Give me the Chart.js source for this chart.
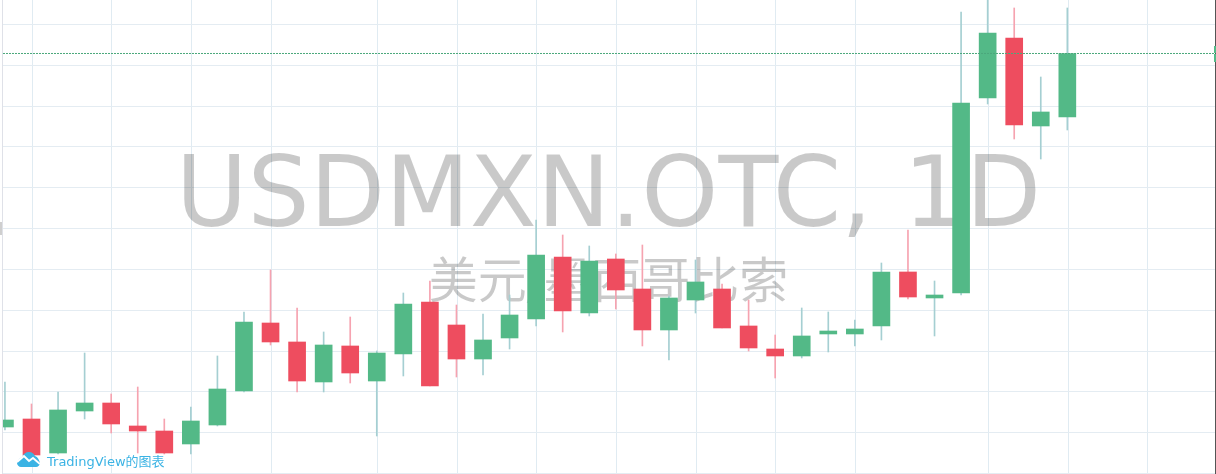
<!DOCTYPE html>
<html>
<head>
<meta charset="utf-8">
<title>USDMXN.OTC, 1D</title>
<script src="https://cdn.jsdelivr.net/npm/chart.js@4/dist/chart.umd.min.js"></script>
<style>
  html, body { margin: 0; padding: 0; background: #fff; overflow: hidden; }
  #wrap { position: relative; width: 1216px; height: 474px; }
  #chart { position: absolute; left: 3px; top: 0; }
  #leftEdge { position: absolute; left: 2px; top: 0; width: 1px; height: 474px; background: #dfe1e8; }
  #leftMark { position: absolute; left: 0; top: 222px; width: 2px; height: 13px; background: #cfcfcf; }
  .priceTag { position: absolute; left: 1214px; width: 2px; background: #53b987; }
  #brand { position: absolute; left: 17px; top: 451px; height: 18px; display: flex; align-items: center;
           color: #3bb3e4; font: 13px "DejaVu Sans", "Noto Sans CJK SC", sans-serif; text-shadow: 0 0 2px #fff; }
  #brand svg { margin-right: 7px; margin-top: -2px; }
</style>
</head>
<body>
<div id="wrap">
  <div id="leftEdge"></div>
  <div id="leftMark"></div>
  <canvas id="chart" width="1213" height="474"></canvas>
  <div class="priceTag" style="top:46px;height:7px"></div>
  <div class="priceTag" style="top:54px;height:8px"></div>
  <div id="brand">
    <svg width="23" height="15" viewBox="0 0 23 15">
      <path d="M0 11 C1 8 3 6 5 5 C6 2 9 0 12 0 C15 0 17 2 18 4 C21 5 22 8 23 11 C23 13 21 15 19 15 L4 15 C2 15 0 13 0 11 Z" fill="#3bb3e4"/>
      <path d="M0 10 L7 4 L12 9 L16 6 L23 12" fill="none" stroke="#fff" stroke-width="2"/>
    </svg>
    <span>TradingView的图表</span>
  </div>
</div>
<script>
var symbolTitle = "USDMXN.OTC, 1D";
var symbolName = "美元/墨西哥比索";

// candle slots, one per trading day, counted from the first gridline
var days = [-1,0,1,2,3,4,5,6,7,8,9,10,11,12,13,14,15,16,17,18,19,20,21,22,23,24,25,26,27,28,29,30,31,32,33,34,35,36,37,38,39];
var gridDays = [0,3,6,9,13,16,19,22,25,28,31,36,39,42];
var gridLevels = [18.8,18.9,19.0,19.1,19.2,19.3,19.4,19.5,19.6,19.7,19.8,19.9];

// no price labels in the picture, so the level is a guess, the shape is read off
var opens = [18.9127,18.9323,18.8490,18.9519,18.9715,18.9152,18.9029,18.8711,18.9176,19.0009,19.1675,19.1210,19.0230,19.1112,19.0254,19.0916,19.2190,19.1626,19.0793,19.1308,19.1773,19.3292,19.1920,19.3243,19.2508,19.1504,19.2239,19.2508,19.1602,19.1038,19.0867,19.1406,19.1406,19.1602,19.2925,19.2288,19.2410,19.7188,19.8658,19.6502,19.6722];
var highs = [19.0230,18.9691,18.9985,19.0940,18.9936,19.0107,18.9323,18.9617,19.0867,19.1945,19.2974,19.2043,19.1455,19.1822,19.0989,19.2410,19.2704,19.2116,19.1896,19.2361,19.4199,19.3831,19.3562,19.3366,19.3586,19.2337,19.3219,19.2631,19.2239,19.1381,19.2043,19.1945,19.1749,19.3145,19.3954,19.2704,19.9295,19.9662,19.9393,19.7702,19.9393];
var lows = [18.9054,18.8417,18.8466,18.9323,18.8980,18.8490,18.8466,18.8466,18.9152,18.9985,19.1136,18.9985,18.9985,19.0205,18.8907,19.0377,19.0132,19.0352,19.0401,19.1038,19.1602,19.1455,19.1847,19.2018,19.1112,19.0769,19.1920,19.1553,19.0989,19.0328,19.0818,19.0965,19.1112,19.1259,19.2263,19.1357,19.2361,19.7041,19.6183,19.5693,19.6404];
var closes = [18.9299,18.8441,18.9544,18.9715,18.9201,18.9029,18.8490,18.9274,19.0058,19.1700,19.1210,19.0254,19.1136,19.0450,19.0940,19.2141,19.0132,19.0793,19.1259,19.1871,19.3341,19.1969,19.3194,19.2484,19.1504,19.2288,19.2680,19.1553,19.1063,19.0867,19.1357,19.1479,19.1528,19.2925,19.2312,19.2361,19.7065,19.8780,19.6526,19.6845,19.8278];

var lastClose = closes[closes.length - 1];
var xMin = -1.073, xMax = 44.56;
var yMin = 18.79755, yMax = 19.95885;

var upColor = "#53b987", downColor = "#ee4d5f";
var upWick = "#a5cfd2", downWick = "#f6a3b0";

function isUp(i) { return closes[i] >= opens[i]; }

var bodies = days.map(function(d, i) { return [opens[i], closes[i]]; });
var wicks = days.map(function(d, i) { return [lows[i], highs[i]]; });

// big symbol text sits over the grid but under the candles
var watermark = {
  id: "watermark",
  beforeDatasetsDraw: function(chart) {
    var ctx = chart.ctx;
    var midX = 608.5 - 3;
    ctx.save();
    ctx.textAlign = "center";
    ctx.textBaseline = "alphabetic";
    ctx.fillStyle = "rgba(0,0,0,0.21)";
    ctx.font = '98px "DejaVu Sans"';
    ctx.fillText(symbolTitle, midX, 226);
    ctx.font = '49px "DejaVu Sans", "Noto Sans CJK SC"';
    ctx.fillText(symbolName, midX, 298);
    ctx.restore();
  }
};

var config = {
  type: "bar",
  data: {
    labels: days,
    datasets: [
      {
        type: "line",
        data: [{ x: xMin, y: lastClose }, { x: xMax, y: lastClose }],
        borderColor: "#4ba87c",
        borderWidth: 1,
        borderDash: [2, 1],
        pointRadius: 0
      },
      {
        data: bodies,
        backgroundColor: days.map(function(d, i) { return isUp(i) ? upColor : downColor; }),
        barThickness: 17,
        grouped: false
      },
      {
        data: wicks,
        backgroundColor: days.map(function(d, i) { return isUp(i) ? upWick : downWick; }),
        barThickness: 1,
        grouped: false
      }
    ]
  },
  options: {
    responsive: false,
    animation: false,
    layout: { padding: 0 },
    plugins: { legend: { display: false }, tooltip: { enabled: false } },
    scales: {
      x: {
        type: "linear",
        min: xMin,
        max: xMax,
        bounds: "data",
        offset: false,
        // the grid sits a hair right of the candle centres in the source
        afterBuildTicks: function(axis) {
          axis.ticks = gridDays.map(function(d) { return { value: d + 0.03 }; });
        },
        ticks: { display: false },
        border: { display: false },
        grid: { offset: false, color: "#e0ebf2", lineWidth: 1, drawTicks: false }
      },
      y: {
        type: "linear",
        position: "right",
        min: yMin,
        max: yMax,
        afterBuildTicks: function(axis) {
          axis.ticks = gridLevels.map(function(v) { return { value: v - 0.0012 }; });
        },
        ticks: { display: false },
        border: { display: true, color: "#555", width: 1 },
        grid: { color: "#e4ecf2", lineWidth: 1, drawTicks: true, tickLength: 1, tickColor: "#555" }
      }
    }
  },
  plugins: [watermark]
};

new Chart(document.getElementById("chart").getContext("2d"), config);
</script>
</body>
</html>
